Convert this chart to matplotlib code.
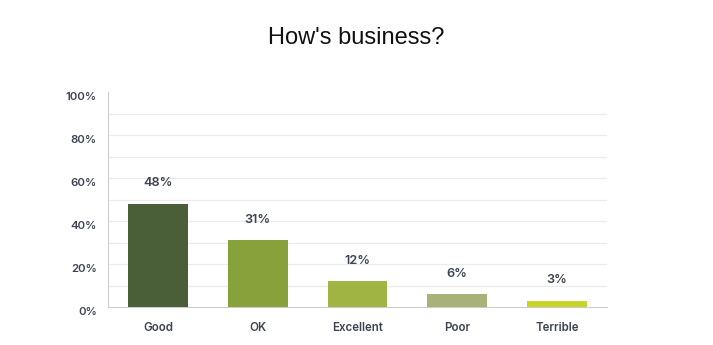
import matplotlib.pyplot as plt
import matplotlib.transforms as mtransforms
import numpy as np

categories = ['Good', 'OK', 'Excellent', 'Poor', 'Terrible']
values = [48, 31, 12, 6, 3]
colors = ['#4a5e37', '#87a23a', '#a0b444', '#a8b178', '#c8d42c']
yticks = [0, 20, 40, 60, 80, 100]

plt.rcParams['font.family'] = ['Inter', 'DejaVu Sans']

fig = plt.figure(figsize=(7.13, 3.45), dpi=100)
ax = fig.add_axes([108 / 713, 38 / 345, 499 / 713, 215 / 345])

x = np.arange(len(categories))
bars = ax.bar(x, values, width=0.6, color=colors, zorder=3)

for xi, v in zip(x, values):
    ax.annotate(f'{v}%', (xi, v), xytext=(0, 10.5), textcoords='offset points',
                ha='center', va='bottom', fontsize=9.2, fontweight='semibold', color='#3d4451')

ax.set_xlim(-0.5, len(categories) - 0.5)
ax.set_ylim(0, 100)
ax.set_yticks(yticks)
ax.set_yticklabels([f'{t}%' for t in yticks])
ax.set_xticks(x)
ax.set_xticklabels(categories)

# gridlines every 10%, none at the top
for g in range(10, 100, 10):
    ax.axhline(g, color='#ebebeb', linewidth=0.9, zorder=0)
for side in ['top', 'right']:
    ax.spines[side].set_visible(False)
ax.spines['left'].set_color('#cccccc')
ax.spines['bottom'].set_color('#cccccc')
ax.tick_params(axis='both', which='both', length=0)
ax.tick_params(axis='y', pad=8, labelsize=8.2, labelcolor='#3d4451')
ax.tick_params(axis='x', pad=11, labelsize=8.3, labelcolor='#3d4451')
shift = mtransforms.ScaledTranslation(0, -4 / 100, fig.dpi_scale_trans)
for lab in ax.get_yticklabels():
    lab.set_fontweight('semibold')
    lab.set_transform(lab.get_transform() + shift)
for lab in ax.get_xticklabels():
    lab.set_fontweight('semibold')

fig.text(0.5, 1 - 38 / 345, "How's business?", ha='center', va='center',
         fontsize=17, family='Liberation Sans', color='#111111')

fig.savefig('out.png', dpi=100)
